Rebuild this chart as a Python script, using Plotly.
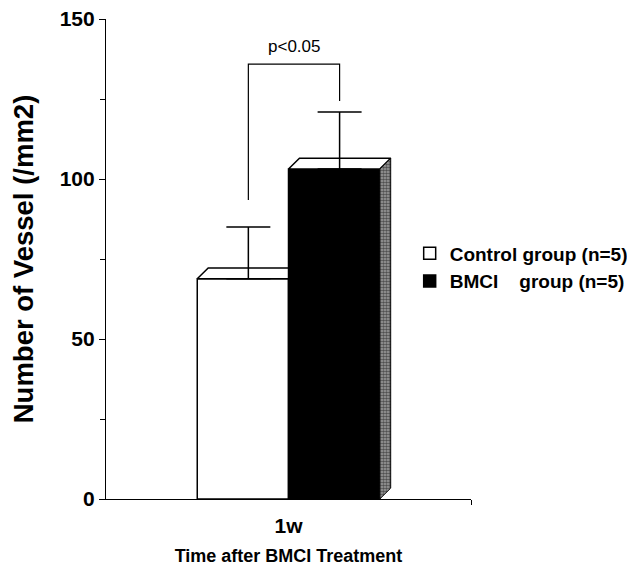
import plotly.graph_objects as go

# ---- data ----
categories = ["1w"]
groups = ["Control group (n=5)", "BMCI\u00a0\u00a0\u00a0\u00a0group (n=5)"]
means = [68.8, 103.1]
sems = [16.2, 17.8]
bracket_top = 135.9
bracket_left_bottom = 93.4
bracket_right_bottom = 124.4
p_text = "p<0.05"
y_ticks = [0, 50, 100, 150]
y_minor = [25, 75, 125]

# ---- geometry (category index 1, two bars side by side) ----
cat_pos = 1.0
bar_w = 0.5
xs = [cat_pos - bar_w / 2, cat_pos + bar_w / 2]
dx = 0.06   # depth offset in x units
dy = 3.4    # depth offset in y units

FONT = "Liberation Sans, Arial, Helvetica, sans-serif"

fig = go.Figure()

fills = ["white", "black"]
for i in range(2):
    fig.add_trace(go.Bar(
        x=[xs[i]], y=[means[i]], width=bar_w, name=groups[i],
        marker=dict(color=fills[i], line=dict(color="black", width=1.5)),
        showlegend=True, hoverinfo="skip"))

# control top face (clipped at BMCI front face)
x0, x1 = xs[0] - bar_w / 2, xs[0] + bar_w / 2
v = means[0]
fig.add_trace(go.Scatter(
    x=[x0, x0 + dx, x1, x1, x0], y=[v, v + dy, v + dy, v, v],
    mode="lines", fill="toself", fillcolor="white",
    line=dict(color="black", width=1.5), showlegend=False, hoverinfo="skip"))

# BMCI top face and side face
x0, x1 = xs[1] - bar_w / 2, xs[1] + bar_w / 2
v = means[1]
fig.add_trace(go.Scatter(
    x=[x0, x0 + dx, x1 + dx, x1, x0], y=[v, v + dy, v + dy, v, v],
    mode="lines", fill="toself", fillcolor="white",
    line=dict(color="black", width=1.5), showlegend=False, hoverinfo="skip"))
fig.add_trace(go.Scatter(
    x=[x1, x1 + dx, x1 + dx, x1, x1], y=[0, dy, v + dy, v, 0],
    mode="lines", fill="toself", fillcolor="#707070",
    fillpattern=dict(shape=".", bgcolor="#a0a0a0", fgcolor="black", size=3, solidity=0.55),
    line=dict(color="black", width=1), showlegend=False, hoverinfo="skip"))

# error bars (upper only), centred on the 3D box
err_x = [x + dx / 2 for x in xs]
fig.add_trace(go.Scatter(
    x=err_x, y=means, mode="markers", marker=dict(size=1, color="rgba(0,0,0,0)"),
    error_y=dict(type="data", symmetric=False, array=sems, arrayminus=[0, 0],
                 color="black", thickness=1.5, width=22),
    showlegend=False, hoverinfo="skip"))

# significance bracket
fig.add_trace(go.Scatter(
    x=[err_x[0], err_x[0], err_x[1], err_x[1]],
    y=[bracket_left_bottom, bracket_top, bracket_top, bracket_right_bottom],
    mode="lines", line=dict(color="black", width=1.2),
    showlegend=False, hoverinfo="skip"))

fig.add_annotation(x=(err_x[0] + err_x[1]) / 2, y=bracket_top, yshift=6,
                   text=p_text, showarrow=False, yanchor="bottom",
                   font=dict(family=FONT, size=17, color="black"))

# page body has an 8px default margin: figure is sized 627x568 to fit the window
fig.update_layout(
    width=627, height=568,
    margin=dict(l=98, r=164, t=11, b=77, autoexpand=False),
    plot_bgcolor="white", paper_bgcolor="white",
    barmode="overlay",
    font=dict(family=FONT, color="black"),
    showlegend=True,
    legend=dict(x=0.832, xanchor="left", y=0.551, yanchor="top",
                font=dict(family=FONT, size=19, weight="bold", color="black"),
                bgcolor="rgba(0,0,0,0)", tracegroupgap=0, itemclick=False),
    xaxis=dict(range=[0, 2], tickvals=[cat_pos], ticktext=categories, automargin=False,
               showline=True, linecolor="black", linewidth=1.2,
               ticks="", ticklabelstandoff=8, showgrid=False, zeroline=False,
               ticklabeloverflow="allow",
               tickfont=dict(family=FONT, size=21, weight="bold", color="black"),
               minor=dict(tickvals=[2], ticks="outside", ticklen=5, tickcolor="black"),
               title=dict(text="Time after BMCI Treatment", standoff=13,
                          font=dict(family=FONT, size=18, weight="bold", color="black"))),
    yaxis=dict(range=[0, 150], tickvals=y_ticks, automargin=False, showline=True,
               linecolor="black", linewidth=1.2, ticks="outside", ticklen=6, tickcolor="black",
               showgrid=False, zeroline=False, ticklabeloverflow="allow",
               tickfont=dict(family=FONT, size=21, weight="bold", color="black"),
               minor=dict(tickvals=y_minor, ticks="outside", ticklen=5, tickcolor="black"),
               title=dict(text="Number of Vessel (/mm2)", standoff=21,
                          font=dict(family=FONT, size=27.5, weight="bold", color="black"))),
)

fig.write_html("out.html")
